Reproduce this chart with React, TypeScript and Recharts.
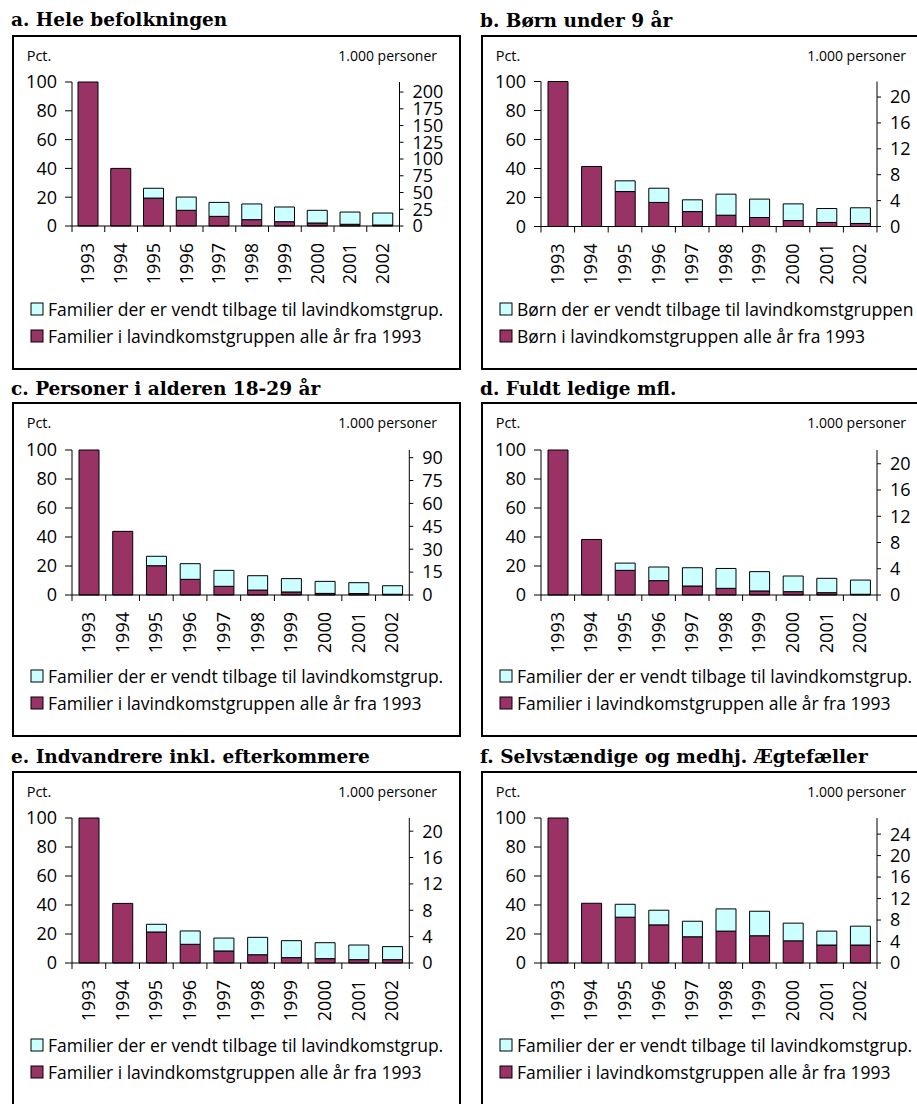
import React from 'react';
import { BarChart, Bar, XAxis, YAxis } from 'recharts';

const years = ['1993', '1994', '1995', '1996', '1997', '1998', '1999', '2000', '2001', '2002'];

// Pct. of 1993 level: families/persons in the low-income group every year since 1993 (maroon)
// and those that have returned to the low-income group (cyan, stacked on top)
const aStayed = [100, 40, 19.4, 10.9, 6.7, 4.4, 3.0, 2.1, 1.2, 0.7];
const aReturned = [0, 0, 6.8, 9.2, 9.7, 10.9, 10.2, 8.8, 8.5, 8.3];
const aRightTicks = [0, 25, 50, 75, 100, 125, 150, 175, 200];
const aRightMax = 215;

const bStayed = [100, 41.4, 24.1, 16.6, 10.3, 7.8, 6.2, 4.1, 2.8, 2.1];
const bReturned = [0, 0, 7.4, 9.8, 8.1, 14.5, 12.7, 11.5, 9.6, 10.8];
const bRightTicks = [0, 4, 8, 12, 16, 20];
const bRightMax = 22.4;

const cStayed = [100, 43.9, 20.2, 10.8, 6.0, 3.4, 2.1, 1.1, 1.0, 0.5];
const cReturned = [0, 0, 6.5, 10.8, 11.0, 9.9, 9.2, 8.3, 7.5, 5.9];
const cRightTicks = [0, 15, 30, 45, 60, 75, 90];
const cRightMax = 95;

const dStayed = [100, 38.3, 17.0, 9.9, 6.2, 4.6, 2.8, 2.3, 1.6, 0.5];
const dReturned = [0, 0, 5.0, 9.4, 12.6, 13.7, 13.3, 10.8, 9.9, 9.8];
const dRightTicks = [0, 4, 8, 12, 16, 20];
const dRightMax = 22.1;

const eStayed = [100, 41.1, 21.4, 12.9, 8.3, 5.7, 3.7, 3.0, 2.3, 2.3];
const eReturned = [0, 0, 5.3, 9.2, 8.9, 12.0, 11.7, 11.0, 10.1, 9.0];
const eRightTicks = [0, 4, 8, 12, 16, 20];
const eRightMax = 22.0;

const fStayed = [100, 41.2, 31.6, 26.3, 18.1, 22.0, 18.8, 15.3, 12.4, 12.4];
const fReturned = [0, 0, 8.9, 10.1, 10.7, 15.3, 16.9, 12.2, 9.6, 13.0];
const fRightTicks = [0, 4, 8, 12, 16, 20, 24];
const fRightMax = 27.0;

const leftTicks = [0, 20, 40, 60, 80, 100];

const famReturned = 'Familier der er vendt tilbage til lavindkomstgrup.';
const famStayed = 'Familier i lavindkomstgruppen alle år fra 1993';
const kidsReturned = 'Børn der er vendt tilbage til lavindkomstgruppen';
const kidsStayed = 'Børn i lavindkomstgruppen alle år fra 1993';

const MAROON = '#993366';
const CYAN = '#CCFFFF';
const SANS = "'Open Sans', 'Noto Sans', sans-serif";
const SERIF = "'DejaVu Serif', serif";

const BOX_W = 449;
const INNER_W = BOX_W - 4;
const BOX_H = 335;
const TICK_FONT = 18;
const YEAR_FONT = 18;
const LEGEND_FONT = 17.5;

type PanelProps = {
  title: string;
  x: number;
  boxTop: number;
  titleBaseline: number;
  stayed: number[];
  returned: number[];
  rightMax: number;
  rightTicks: number[];
  plotRight: number;
  plotTop: number;
  plotHeight: number;
  legendReturned: string;
  legendStayed: string;
};

function Panel(p: PanelProps) {
  const data = years.map((year, i) => ({ year, stayed: p.stayed[i], returned: p.returned[i] }));
  const leftW = 58;
  const rightW = INNER_W - p.plotRight;
  const plotW = p.plotRight - leftW;
  const band = plotW / years.length;
  const axisY = p.plotTop + p.plotHeight;
  const chartH = axisY + 70;

  const renderTick = (props: any) => {
    const { x, payload, index } = props;
    const bx = x - band / 2;
    const ty = axisY + 17;
    return (
      <g>
        <line x1={bx} y1={axisY} x2={bx} y2={axisY + 6} stroke="#000" strokeWidth={1} />
        {index === years.length - 1 ? (
          <line x1={x + band / 2} y1={axisY} x2={x + band / 2} y2={axisY + 6} stroke="#000" strokeWidth={1} />
        ) : null}
        <text
          transform={`translate(${x + 6}, ${ty}) rotate(-90)`}
          textAnchor="end"
          style={{ fontSize: `${YEAR_FONT}px`, fontFamily: SANS, fill: '#000' }}
        >
          {payload.value}
        </text>
      </g>
    );
  };

  return (
    <>
      <div
        style={{
          position: 'absolute',
          left: p.x - 1,
          top: p.titleBaseline - 19,
          fontFamily: SERIF,
          fontWeight: 'bold',
          fontSize: 18.5,
          lineHeight: '24px',
          whiteSpace: 'nowrap',
          color: '#000',
        }}
      >
        {p.title}
      </div>
      <div
        style={{
          position: 'absolute',
          left: p.x,
          top: p.boxTop,
          width: BOX_W,
          height: BOX_H,
          border: '2px solid #000',
          boxSizing: 'border-box',
          background: '#fff',
        }}
      >
        <div style={{ position: 'absolute', left: 0, top: 0 }}>
          <BarChart
            width={INNER_W}
            height={chartH}
            data={data}
            margin={{ top: p.plotTop, right: 0, bottom: 0, left: 0 }}
          >
            <XAxis
              dataKey="year"
              xAxisId={0}
              height={70}
              interval={0}
              tickLine={false}
              tickSize={0}
              tickMargin={0}
              axisLine={{ stroke: '#000', strokeWidth: 1 }}
              tick={renderTick}
            />
            <YAxis
              yAxisId="left"
              orientation="left"
              width={leftW}
              type="number"
              domain={[0, 100]}
              ticks={leftTicks}
              interval={0}
              tickSize={7}
              tickMargin={8}
              axisLine={{ stroke: '#000', strokeWidth: 1 }}
              tickLine={{ stroke: '#000', strokeWidth: 1 }}
              tick={{ fontSize: TICK_FONT, fill: '#000', fontFamily: SANS }}
            />
            <YAxis
              yAxisId="right"
              orientation="right"
              width={rightW}
              type="number"
              domain={[0, p.rightMax]}
              allowDataOverflow
              ticks={p.rightTicks}
              interval={0}
              tickSize={4}
              tickMargin={9}
              axisLine={{ stroke: '#000', strokeWidth: 1 }}
              tickLine={{ stroke: '#000', strokeWidth: 1 }}
              tick={{ fontSize: TICK_FONT, fill: '#000', fontFamily: SANS, textAnchor: 'start' }}
            />
            <Bar
              dataKey="stayed"
              stackId="s"
              yAxisId="left"
              fill={MAROON}
              stroke="#000"
              strokeWidth={1}
              barSize={20}
              isAnimationActive={false}
            />
            <Bar
              dataKey="returned"
              stackId="s"
              yAxisId="left"
              fill={CYAN}
              stroke="#000"
              strokeWidth={1}
              barSize={20}
              isAnimationActive={false}
            />
          </BarChart>
        </div>
        <svg
          width={INNER_W}
          height={BOX_H - 4}
          style={{ position: 'absolute', left: 0, top: 0, pointerEvents: 'none' }}
        >
          <text x={12.7} y={23.7} fontSize={14.5} fontFamily={SANS} fill="#000">
            Pct.
          </text>
          <text x={423} y={23.7} fontSize={14} fontFamily={SANS} fill="#000" textAnchor="end">
            1.000 personer
          </text>
          <rect x={17} y={266} width={12} height={12} fill={CYAN} stroke="#000" strokeWidth={1} />
          <text x={34} y={278.5} fontSize={LEGEND_FONT} fontFamily={SANS} fill="#000">
            {p.legendReturned}
          </text>
          <rect x={17} y={293} width={12} height={12} fill={MAROON} stroke="#000" strokeWidth={1} />
          <text x={34} y={305.5} fontSize={LEGEND_FONT} fontFamily={SANS} fill="#000">
            {p.legendStayed}
          </text>
        </svg>
      </div>
    </>
  );
}

export default function App() {
  return (
    <div
      style={{
        position: 'absolute',
        left: 0,
        top: 0,
        width: 917,
        height: 1104,
        overflow: 'hidden',
        background: '#fff',
      }}
    >
      <Panel
        title="a. Hele befolkningen"
        x={12}
        boxTop={35}
        titleBaseline={27}
        stayed={aStayed}
        returned={aReturned}
        rightMax={aRightMax}
        rightTicks={aRightTicks}
        plotRight={385.5}
        plotTop={45}
        plotHeight={144}
        legendReturned={famReturned}
        legendStayed={famStayed}
      />
      <Panel
        title="b. Børn under 9 år"
        x={481}
        boxTop={35}
        titleBaseline={28}
        stayed={bStayed}
        returned={bReturned}
        rightMax={bRightMax}
        rightTicks={bRightTicks}
        plotRight={394}
        plotTop={44.5}
        plotHeight={145}
        legendReturned={kidsReturned}
        legendStayed={kidsStayed}
      />
      <Panel
        title="c. Personer i alderen 18-29 år"
        x={12}
        boxTop={402}
        titleBaseline={396}
        stayed={cStayed}
        returned={cReturned}
        rightMax={cRightMax}
        rightTicks={cRightTicks}
        plotRight={395.3}
        plotTop={46}
        plotHeight={145}
        legendReturned={famReturned}
        legendStayed={famStayed}
      />
      <Panel
        title="d. Fuldt ledige mfl."
        x={481}
        boxTop={402}
        titleBaseline={396}
        stayed={dStayed}
        returned={dReturned}
        rightMax={dRightMax}
        rightTicks={dRightTicks}
        plotRight={394}
        plotTop={46}
        plotHeight={145}
        legendReturned={famReturned}
        legendStayed={famStayed}
      />
      <Panel
        title="e. Indvandrere inkl. efterkommere"
        x={12}
        boxTop={771}
        titleBaseline={764}
        stayed={eStayed}
        returned={eReturned}
        rightMax={eRightMax}
        rightTicks={eRightTicks}
        plotRight={395.3}
        plotTop={45}
        plotHeight={145}
        legendReturned={famReturned}
        legendStayed={famStayed}
      />
      <Panel
        title="f. Selvstændige og medhj. Ægtefæller"
        x={481}
        boxTop={771}
        titleBaseline={764}
        stayed={fStayed}
        returned={fReturned}
        rightMax={fRightMax}
        rightTicks={fRightTicks}
        plotRight={394}
        plotTop={45}
        plotHeight={145}
        legendReturned={famReturned}
        legendStayed={famStayed}
      />
    </div>
  );
}
